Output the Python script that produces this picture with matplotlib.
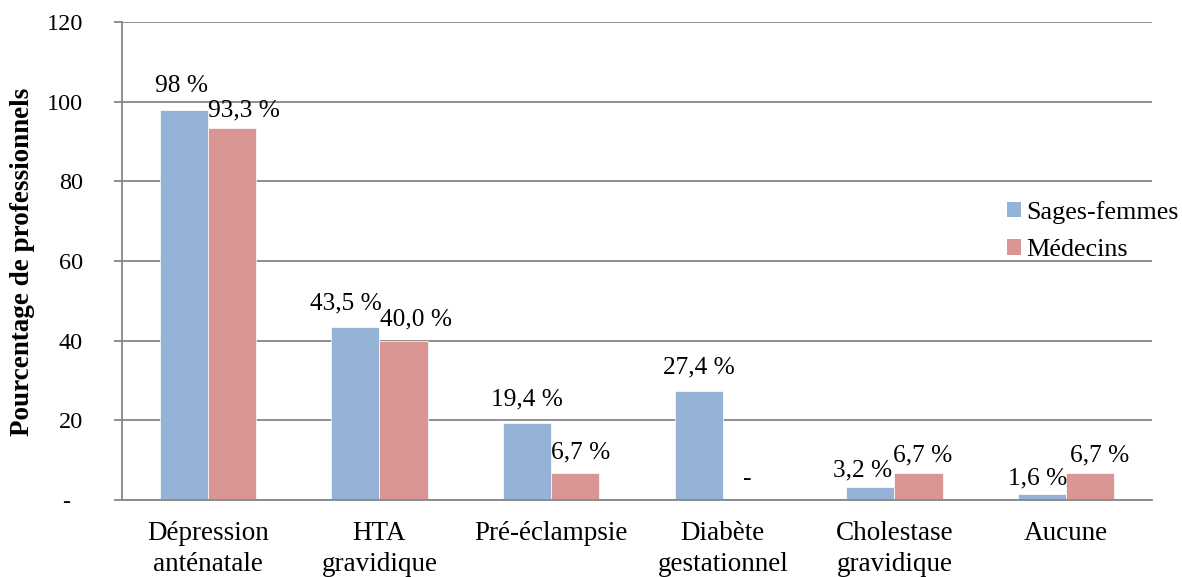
import matplotlib
matplotlib.use("Agg")

import matplotlib.pyplot as plt
import numpy as np
from matplotlib.patches import Patch

categories = ["Dépression\nanténatale", "HTA\ngravidique", "Pré-éclampsie",
              "Diabète\ngestationnel", "Cholestase\ngravidique", "Aucune"]
sages_femmes = [98.0, 43.5, 19.4, 27.4, 3.2, 1.6]
medecins = [93.3, 40.0, 6.7, 0.0, 6.7, 6.7]
sf_labels = ["98 %", "43,5 %", "19,4 %", "27,4 %", "3,2 %", "1,6 %"]
med_labels = ["93,3 %", "40,0 %", "6,7 %", "-", "6,7 %", "6,7 %"]
y_ticks = [0, 20, 40, 60, 80, 100, 120]
y_ticklabels = ["-  ", "20", "40", "60", "80", "100", "120"]

BLUE = "#95B3D7"
RED = "#D99694"
GRID = "#868686"

plt.rcParams["font.family"] = ["Liberation Serif", "DejaVu Serif"]
plt.rcParams["font.size"] = 19.5

fig = plt.figure(figsize=(11.82, 5.77), dpi=100)
ax = fig.add_axes([0.1032, 0.1334, 0.9746 - 0.1032, 0.9619 - 0.1334])

x = np.arange(len(categories))
w = 0.28
ax.bar(x - w / 2, sages_femmes, w, color=BLUE, edgecolor="white", linewidth=0.5, zorder=3)
ax.bar(x + w / 2, medecins, w, color=RED, edgecolor="white", linewidth=0.5, zorder=3)

# small nudges (points) to keep neighbouring labels apart, like Excel did
sf_dx = [-2, -7, 0, 0, -6, -3]
med_dx = [9, 9, 4, 0, 3, 7]
sf_dy = [17, 17, 17, 17, 12, 11]
med_dy = [13, 15, 15, 15, 13, 13]
for i in range(len(categories)):
    ax.annotate(sf_labels[i], (x[i] - w / 2, sages_femmes[i]), xytext=(sf_dx[i], sf_dy[i]),
                textcoords="offset points", ha="center", va="center", fontsize=18.3)
    ax.annotate(med_labels[i], (x[i] + w / 2, medecins[i]), xytext=(med_dx[i], med_dy[i]),
                textcoords="offset points", ha="center", va="center", fontsize=18.3)

ax.set_xlim(-0.5, len(categories) - 0.5)
ax.set_ylim(0, 120)
ax.set_yticks(y_ticks)
ax.set_yticklabels(y_ticklabels, fontsize=17.5)
ax.set_xticks(x)
ax.set_xticklabels(categories, linespacing=1.3)
ax.tick_params(axis="x", length=0, pad=15)
ax.tick_params(axis="y", length=6, width=1.3, color=GRID, pad=22)

ax.yaxis.grid(True, color=GRID, linewidth=1.3, zorder=0)
ax.set_axisbelow(True)
for side in ["top", "right"]:
    ax.spines[side].set_visible(False)
for side in ["left", "bottom"]:
    ax.spines[side].set_color(GRID)
    ax.spines[side].set_linewidth(1.3)
ax.spines["bottom"].set_zorder(4)

fig.text(0.019, 0.546, "Pourcentage de professionnels", rotation=90, ha="center", va="center",
         fontsize=19.5, fontweight="bold")

handles = [Patch(facecolor=BLUE), Patch(facecolor=RED)]
fig.legend(handles, ["Sages-femmes", "Médecins"], loc="center left",
           bbox_to_anchor=(1007 / 1182, 1 - 231 / 577), frameon=False,
           handlelength=0.52, handleheight=0.52, handletextpad=0.2, labelspacing=0.6,
           borderpad=0, borderaxespad=0, fontsize=18.8)

fig.savefig("out.png", dpi=100)
